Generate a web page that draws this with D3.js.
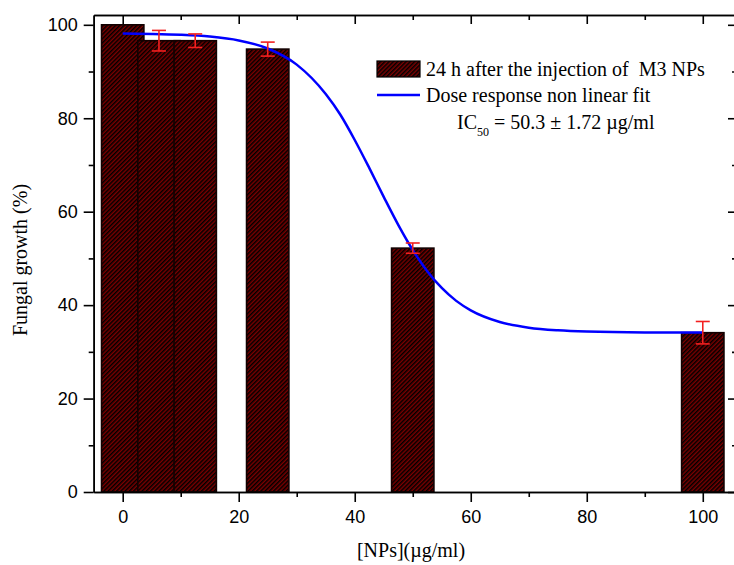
<!DOCTYPE html>
<html>
<head>
<meta charset="utf-8">
<script src="https://cdn.jsdelivr.net/npm/d3@7"></script>
<style>
  html, body { margin: 0; padding: 0; background: #fff; }
  svg { display: block; }
</style>
</head>
<body>
<svg id="chart" width="734" height="565"></svg>
<script>
// ---- data ----
const doses = [0, 6.25, 12.5, 25, 50, 100];            // [NPs] (µg/ml)
const growth = [100, 96.6, 96.6, 94.8, 52.2, 34.1];    // fungal growth (%)
const errors = [0, 2.2, 1.45, 1.5, 1.1, 2.4];          // error bar half-heights
const fitX = [0, 5, 10, 15, 20, 25, 30, 35, 37.5, 40, 42.5, 45, 47.5, 50, 52.5, 55, 57.5, 60, 65, 70, 75, 80, 90, 100];
const fitY = [98.13, 98.05, 97.87, 97.48, 96.65, 94.93, 91.48, 85.19, 80.8, 75.35, 69.37, 63.17, 57.18, 51.8, 47.27, 43.67, 40.91, 38.88, 36.39, 35.17, 34.6, 34.33, 34.15, 34.12];
const xTicks = [0, 20, 40, 60, 80, 100];
const xMinor = [10, 30, 50, 70, 90];
const yTicks = [0, 20, 40, 60, 80, 100];
const yMinor = [10, 30, 50, 70, 90];
const legendBarLabel = "24 h after the injection of  M3 NPs";
const legendFitLabel = "Dose response non linear fit";
const xTitle = "[NPs](µg/ml)";
const yTitle = "Fungal growth (%)";

// ---- layout ----
const L = 93.7, R = 737, T = 15, B = 492;
const svg = d3.select("#chart");
const x = d3.scaleLinear().domain([-5, 105.9]).range([L, R]);
const y = d3.scaleLinear().domain([0, 102.1]).range([B, T]);
const barW = 7.3; // in data units

const sans = "'Liberation Sans', Arial, sans-serif";
const serif = "'Liberation Serif', 'Times New Roman', serif";

// hatch pattern
const defs = svg.append("defs");
const pat = defs.append("pattern")
  .attr("id", "hatch").attr("patternUnits", "userSpaceOnUse")
  .attr("width", 3).attr("height", 3)
  .attr("patternTransform", "rotate(45)");
pat.append("rect").attr("width", 3).attr("height", 3).attr("fill", "#7a0000");
pat.append("rect").attr("width", 1.5).attr("height", 3).attr("fill", "#000");

// bars
const data = doses.map((d, i) => ({ d, g: growth[i], e: errors[i] }));
svg.append("g").selectAll("rect").data(data).join("rect")
  .attr("x", p => x(p.d - barW / 2))
  .attr("y", p => y(p.g))
  .attr("width", p => x(p.d + barW / 2) - x(p.d - barW / 2))
  .attr("height", p => y(0) - y(p.g))
  .attr("fill", "url(#hatch)")
  .attr("stroke", "#120000").attr("stroke-width", 1.6);

// fit curve
const fitPts = fitX.map((v, i) => [v, fitY[i]]);
svg.append("path").datum(fitPts)
  .attr("d", d3.line().x(p => x(p[0])).y(p => y(p[1])).curve(d3.curveMonotoneX))
  .attr("fill", "none").attr("stroke", "#0000ff").attr("stroke-width", 2.5);

// error bars
const eb = svg.append("g").attr("stroke", "#f22020").attr("stroke-width", 1.6).attr("fill", "none");
data.filter(p => p.e > 0).forEach(p => {
  const cx = x(p.d), cw = 7;
  eb.append("line").attr("x1", cx).attr("x2", cx).attr("y1", y(p.g + p.e)).attr("y2", y(p.g - p.e));
  eb.append("line").attr("x1", cx - cw).attr("x2", cx + cw).attr("y1", y(p.g + p.e)).attr("y2", y(p.g + p.e));
  eb.append("line").attr("x1", cx - cw).attr("x2", cx + cw).attr("y1", y(p.g - p.e)).attr("y2", y(p.g - p.e));
});

// axes
function styleAxis(g) {
  g.selectAll("path.domain").attr("stroke", "#000").attr("stroke-width", 1.6);
  g.selectAll(".tick line").attr("stroke", "#000").attr("stroke-width", 1.6);
  g.selectAll("text").attr("font-family", sans).attr("font-size", 18).attr("fill", "#000");
}
// bottom
svg.append("g").attr("transform", `translate(0,${B})`)
  .call(d3.axisBottom(x).tickValues(xTicks).tickSize(10).tickSizeOuter(0).tickPadding(8))
  .call(styleAxis);
svg.append("g").attr("transform", `translate(0,${B})`)
  .call(d3.axisBottom(x).tickValues(xMinor).tickSize(5).tickSizeOuter(0).tickFormat(""))
  .call(styleAxis);
// top
svg.append("g").attr("transform", `translate(0,${T})`)
  .call(d3.axisBottom(x).tickValues(xTicks).tickSize(9).tickSizeOuter(0).tickFormat(""))
  .call(styleAxis);
svg.append("g").attr("transform", `translate(0,${T})`)
  .call(d3.axisBottom(x).tickValues(xMinor).tickSize(5).tickSizeOuter(0).tickFormat(""))
  .call(styleAxis);
// left
svg.append("g").attr("transform", `translate(${L},0)`)
  .call(d3.axisLeft(y).tickValues(yTicks).tickSize(10).tickSizeOuter(0).tickPadding(6))
  .call(styleAxis);
svg.append("g").attr("transform", `translate(${L},0)`)
  .call(d3.axisLeft(y).tickValues(yMinor).tickSize(5).tickSizeOuter(0).tickFormat(""))
  .call(styleAxis);
// right
svg.append("g").attr("transform", `translate(${R},0)`)
  .call(d3.axisRight(y).tickValues(yTicks).tickSize(-9).tickSizeOuter(0).tickFormat(""))
  .call(styleAxis);
svg.append("g").attr("transform", `translate(${R},0)`)
  .call(d3.axisRight(y).tickValues(yMinor).tickSize(-5).tickSizeOuter(0).tickFormat(""))
  .call(styleAxis);

// axis titles
svg.append("text").attr("x", 411).attr("y", 557).attr("text-anchor", "middle")
  .attr("font-family", serif).attr("font-size", 20).text(xTitle);
svg.append("text").attr("transform", "translate(27,260) rotate(-90)").attr("text-anchor", "middle")
  .attr("font-family", serif).attr("font-size", 20).text(yTitle);

// legend
const lg = svg.append("g");
lg.append("rect").attr("x", 377).attr("y", 61).attr("width", 43).attr("height", 16)
  .attr("fill", "url(#hatch)").attr("stroke", "#000").attr("stroke-width", 1.2);
lg.append("line").attr("x1", 377).attr("x2", 420).attr("y1", 95).attr("y2", 95)
  .attr("stroke", "#0000ff").attr("stroke-width", 2.5);
lg.append("text").attr("x", 426).attr("y", 76).attr("font-family", serif).attr("font-size", 20)
  .style("white-space", "pre").text(legendBarLabel);
lg.append("text").attr("x", 426).attr("y", 102).attr("font-family", serif).attr("font-size", 20)
  .text(legendFitLabel);
const ic = lg.append("text").attr("x", 457).attr("y", 129).attr("font-family", serif).attr("font-size", 20);
ic.append("tspan").text("IC");
ic.append("tspan").attr("font-size", 12).attr("dy", 7).text("50");
ic.append("tspan").attr("dy", -7).text(" = 50.3 \u00B1 1.72 \u00B5g/ml");
</script>
</body>
</html>
